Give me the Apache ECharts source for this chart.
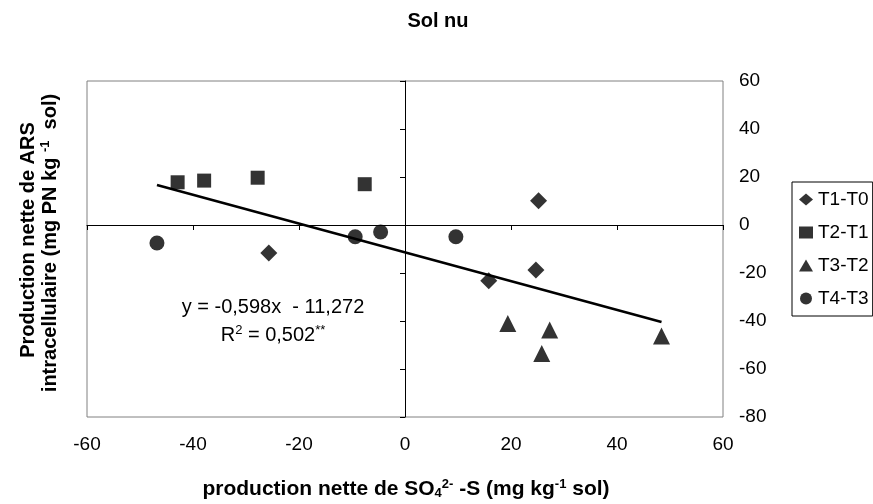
<!DOCTYPE html>
<html>
<head>
<meta charset="utf-8">
<script src="https://cdn.jsdelivr.net/npm/echarts@6/dist/echarts.min.js"></script>
<style>
  html, body { margin: 0; padding: 0; background: #fff; }
  #main { width: 873px; height: 504px; }
</style>
</head>
<body>
<div id="main"></div>
<script>
// points, [x, y]
var t1t0 = [[-25.7, -11.7], [25.2, 10.1], [15.8, -23.2], [24.7, -18.8]];
var t2t1 = [[-42.9, 17.8], [-37.9, 18.5], [-27.8, 19.7], [-7.6, 17.0]];
var t3t2 = [[19.4, -41.0], [27.3, -43.8], [25.8, -53.5], [48.4, -46.3]];
var t4t3 = [[-46.8, -7.5], [-9.4, -4.9], [-4.6, -2.9], [9.6, -4.9]];
// trend line ends as drawn
var trend = [[-46.8, 16.7], [48.4, -40.4]];
var seriesNames = ['T1-T0', 'T2-T1', 'T3-T2', 'T4-T3'];

var font = 'Liberation Sans, Arial, sans-serif';
var myChart = echarts.init(document.getElementById('main'));

function scatter(name, data, symbol, size) {
  return {
    name: name,
    type: 'scatter',
    xAxisIndex: 0,
    yAxisIndex: 0,
    data: data,
    symbol: symbol,
    symbolSize: size,
    itemStyle: { color: '#000' },
    z: 5
  };
}

var option = {
  animation: false,
  backgroundColor: '#fff',
  title: {
    text: 'Sol nu',
    left: 433,
    textAlign: 'center',
    top: 6,
    textStyle: { fontFamily: font, fontSize: 20, fontWeight: 'bold', color: '#000' }
  },
  legend: {
    orient: 'vertical',
    left: 792,
    top: 182,
    padding: [8, 4, 8, 7],
    itemGap: 14,
    itemWidth: 14,
    itemHeight: 12,
    borderColor: '#000',
    borderWidth: 1,
    borderRadius: 0,
    data: seriesNames,
    textStyle: { fontFamily: font, fontSize: 19, color: '#000' }
  },
  grid: {
    left: 87, right: 150, top: 81, bottom: 87,
    show: true,
    borderColor: '#808080',
    borderWidth: 1,
    backgroundColor: 'transparent'
  },
  xAxis: [
    {
      type: 'value', min: -60, max: 60, interval: 20, position: 'bottom',
      axisLine: { show: false, onZero: false },
      axisTick: { show: false },
      splitLine: { show: false },
      axisLabel: { margin: 18, fontFamily: font, fontSize: 19, color: '#000' }
    },
    {
      type: 'value', min: -60, max: 60, interval: 20, position: 'bottom',
      axisLine: { show: true, onZero: true, onZeroAxisIndex: 0, lineStyle: { color: '#000', width: 1 } },
      axisTick: { show: true, inside: false, length: 5, lineStyle: { color: '#000' } },
      splitLine: { show: false },
      axisLabel: { show: false }
    }
  ],
  yAxis: [
    {
      type: 'value', min: -80, max: 60, interval: 20, position: 'right',
      axisLine: { show: false, onZero: false },
      axisTick: { show: false },
      splitLine: { show: false },
      axisLabel: { margin: 16, fontFamily: font, fontSize: 19, color: '#000' }
    },
    {
      type: 'value', min: -80, max: 60, interval: 20, position: 'left',
      axisLine: { show: true, onZero: true, onZeroAxisIndex: 0, lineStyle: { color: '#000', width: 1 } },
      axisTick: { show: true, inside: false, length: 5, lineStyle: { color: '#000' } },
      splitLine: { show: false },
      axisLabel: { show: false }
    }
  ],
  series: [
    scatter(seriesNames[0], t1t0, 'diamond', 17),
    scatter(seriesNames[1], t2t1, 'rect', 14),
    scatter(seriesNames[2], t3t2, 'triangle', 17),
    scatter(seriesNames[3], t4t3, 'circle', 15),
    {
      name: 'trend',
      type: 'line',
      data: trend,
      symbol: 'none',
      lineStyle: { color: '#000', width: 2.5 },
      z: 4
    }
  ],
  graphic: [
    {
      type: 'text',
      x: 273, y: 307,
      style: {
        text: 'y = -0,598x  - 11,272',
        fontFamily: font, fontSize: 20, fill: '#000',
        textAlign: 'center', textVerticalAlign: 'middle'
      }
    },
    {
      type: 'text',
      x: 273, y: 335,
      style: {
        text: 'R{sup|2} = 0,502{sup|**}',
        fontFamily: font, fontSize: 20, fill: '#000',
        textAlign: 'center', textVerticalAlign: 'middle',
        rich: { sup: { fontFamily: font, fontSize: 13, padding: [0, 0, 9, 0] } }
      }
    },
    {
      type: 'text',
      x: 406, y: 489,
      style: {
        text: 'production nette de SO{sub|4}{sup|2-} -S (mg kg{sup|-1} sol)',
        fontFamily: font, fontSize: 21, fontWeight: 'bold', fill: '#000',
        textAlign: 'center', textVerticalAlign: 'middle',
        rich: {
          sub: { fontFamily: font, fontSize: 13, fontWeight: 'bold', padding: [9, 0, 0, 0] },
          sup: { fontFamily: font, fontSize: 13, fontWeight: 'bold', padding: [0, 0, 10, 0] }
        }
      }
    },
    {
      type: 'text',
      x: 28, y: 240,
      rotation: Math.PI / 2,
      style: {
        text: 'Production nette de ARS',
        fontFamily: font, fontSize: 20, fontWeight: 'bold', fill: '#000',
        textAlign: 'center', textVerticalAlign: 'middle'
      }
    },
    {
      type: 'text',
      x: 50, y: 243,
      rotation: Math.PI / 2,
      style: {
        text: 'intracellulaire (mg PN kg {sup|-1}  sol)',
        fontFamily: font, fontSize: 20, fontWeight: 'bold', fill: '#000',
        textAlign: 'center', textVerticalAlign: 'middle',
        rich: { sup: { fontFamily: font, fontSize: 13, fontWeight: 'bold', padding: [0, 0, 10, 0] } }
      }
    }
  ]
};

myChart.setOption(option);
window.onresize = myChart.resize;
</script>
</body>
</html>
